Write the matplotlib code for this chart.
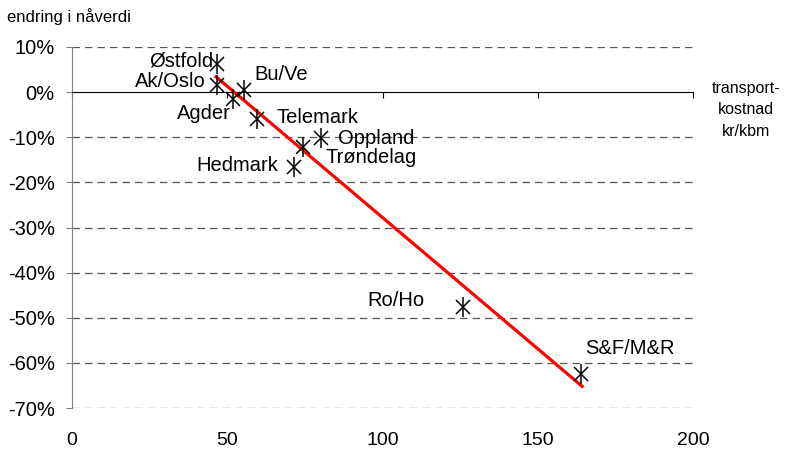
"""
Endring i nåverdi mot transportkostnad per fylke
"""

import numpy as np
import matplotlib.pyplot as plt
from matplotlib.ticker import FuncFormatter

plt.rcParams['font.family'] = ['Liberation Sans', 'DejaVu Sans']

# data
regions = ['Østfold', 'Ak/Oslo', 'Bu/Ve', 'Agder', 'Telemark', 'Oppland',
           'Trøndelag', 'Hedmark', 'Ro/Ho', 'S&F/M&R']
cost = [46.7, 46.7, 55.5, 52.0, 59.5, 80.2, 74.5, 71.6, 125.8, 164.0]
change = [6.2, 1.6, 0.4, -1.5, -6.0, -10.2, -12.1, -16.6, -47.7, -62.5]

# trend line end points
trend_x = [46.4, 164.3]
trend_y = [3.4, -65.2]

# label offsets in pixels (dx, dy, ha)
offsets = {
    'Østfold': (-4, 3, 'right'),
    'Ak/Oslo': (-11, 3, 'right'),
    'Bu/Ve': (10, 16, 'left'),
    'Agder': (-3, -15, 'right'),
    'Telemark': (20, 2, 'left'),
    'Oppland': (17, 0, 'left'),
    'Trøndelag': (22, -11, 'left'),
    'Hedmark': (-16, 2, 'right'),
    'Ro/Ho': (-38, 7, 'right'),
    'S&F/M&R': (4, 26, 'left'),
}

fig = plt.figure(figsize=(7.93, 4.5), dpi=100)
ax = fig.add_axes([72/793, 42/450, 621/793, 361/450])

ax.set_xlim(0, 200)
ax.set_ylim(-70, 10)

# dashed grid lines
for yv in [10, -10, -20, -30, -40, -50, -60, -70]:
    ax.plot([0, 200], [yv, yv], color='#555555', lw=0.9, ls=(0, (6, 4)), zorder=1)

ax.plot(trend_x, trend_y, color='#ff0000', lw=2.3, zorder=3)
ax.plot(cost, change, ls='none', marker='x', ms=10, mew=1.1, color='black', zorder=4)
ax.plot(cost, change, ls='none', marker='|', ms=14, mew=1.1, color='black', zorder=4)

for name, xv, yv in zip(regions, cost, change):
    dx, dy, ha = offsets[name]
    ax.annotate(name, (xv, yv), xytext=(dx, dy), textcoords='offset pixels',
                ha=ha, va='center', fontsize=14.5, zorder=5)

ax.spines['top'].set_visible(False)
ax.spines['right'].set_visible(False)
ax.spines['left'].set_color('#808080')
ax.spines['bottom'].set_position(('data', 0))
ax.spines['bottom'].set_color('black')

ax.set_yticks(np.arange(-70, 11, 10))
ax.yaxis.set_major_formatter(FuncFormatter(lambda v, p: '%d%%' % v))
ax.tick_params(axis='y', direction='out', length=4.5, pad=8, labelsize=14.5,
               color='#808080')
ax.set_xticks([0, 50, 100, 150, 200])
ax.tick_params(axis='x', direction='out', length=4.5, labelbottom=False)

sec = ax.secondary_xaxis('bottom')
sec.spines['bottom'].set_visible(False)
sec.set_xticks([0, 50, 100, 150, 200])
sec.tick_params(length=0, pad=17, labelsize=14)

fig.text(7/793, 1 - 17/450, 'endring i nåverdi', fontsize=12, ha='left', va='center')
fig.text(746/793, 1 - 110/450, 'transport-\nkostnad\nkr/kbm', fontsize=11.5,
         ha='center', va='center', linespacing=1.58)

plt.savefig('out.png', dpi=100)
